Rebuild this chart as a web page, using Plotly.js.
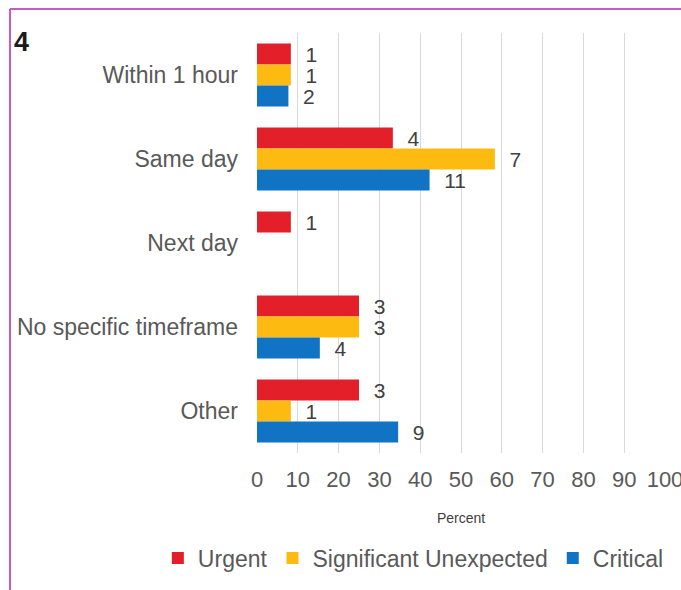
<!DOCTYPE html>
<html>
<head>
<meta charset="utf-8">
<script src="https://cdn.plot.ly/plotly-3.0.1.min.js"></script>
<style>html,body{margin:0;padding:0;background:#fff;}#chart{width:681px;height:590px;}</style>
</head>
<body>
<div id="chart"></div>
<script>
// Categories (top to bottom)
var categories = ["Within 1 hour", "Same day", "Next day", "No specific timeframe", "Other"];
// Bar lengths (percent)
var urgentPct = [8.3, 33.3, 8.3, 25, 25];
var sigPct = [8.3, 58.3, 0, 25, 8.3];
var criticalPct = [7.7, 42.3, 0, 15.4, 34.6];
// Counts shown as data labels
var urgentN = [1, 4, 1, 3, 3];
var sigN = [1, 7, 0, 3, 1];
var criticalN = [2, 11, 0, 4, 9];
// Axis ticks
var xTicks = [0, 10, 20, 30, 40, 50, 60, 70, 80, 90, 100];

var seriesNames = ["Urgent", "Significant Unexpected", "Critical"];
var seriesColors = ["#e3202a", "#fdbb12", "#1173c4"];

function lab(n){ return n.map(function(v){ return v ? "\u00a0\u00a0" + v : ""; }); }

var pcts = [urgentPct, sigPct, criticalPct];
var counts = [urgentN, sigN, criticalN];
var traces = seriesNames.map(function(name, i){
  return {
    type: "bar",
    orientation: "h",
    name: name,
    y: categories,
    x: pcts[i],
    text: lab(counts[i]),
    textposition: "outside",
    constraintext: "none",
    cliponaxis: false,
    textfont: {family: "Liberation Sans, Arial, sans-serif", size: 21, color: "#404040"},
    marker: {color: seriesColors[i], line: {width: 0}},
    hoverinfo: "none"
  };
});

var layout = {
  width: 681, height: 590,
  margin: {l: 257, r: 16, t: 33, b: 136},
  paper_bgcolor: "#ffffff", plot_bgcolor: "#ffffff",
  barmode: "group",
  bargap: 0.25,
  bargroupgap: 0,
  font: {family: "Liberation Sans, Arial, sans-serif", color: "#595959"},
  title: {text: "<b>4</b>", x: 14/681, xanchor: "left", y: 1 - 42/590, yanchor: "middle",
          font: {family: "Liberation Sans, Arial, sans-serif", size: 27, color: "#1a1a1a"}},
  xaxis: {
    range: [0, 100], tickvals: xTicks, ticktext: xTicks.map(String),
    showgrid: true, gridcolor: "#d9d9d9", gridwidth: 1,
    zeroline: false, showline: false, ticks: "",
    tickfont: {size: 22, color: "#595959"},
    ticklabelstandoff: 11,
    ticklabeloverflow: "allow",
    title: {text: "Percent", font: {size: 14, color: "#404040"}, standoff: 22}
  },
  yaxis: {
    type: "category", autorange: "reversed",
    showgrid: false, zeroline: false, showline: false, ticks: "",
    tickfont: {size: 23, color: "#595959"},
    ticklabelstandoff: 18
  },
  showlegend: true,
  legend: {
    orientation: "h", x: -0.243, xanchor: "left", y: -0.247, yanchor: "middle",
    font: {size: 23, color: "#595959"}, traceorder: "normal",
    itemclick: false, itemdoubleclick: false
  },
  shapes: [
    {type: "line", xref: "paper", yref: "paper", x0: (10-257)/408, x1: (10-257)/408, y0: 1 + 24/421, y1: -0.4, line: {color: "#c65bc6", width: 2}},
    {type: "line", xref: "paper", yref: "paper", x0: (10-257)/408, x1: 1.1, y0: 1 + 24/421, y1: 1 + 24/421, line: {color: "#c65bc6", width: 2}}
  ]
};

Plotly.newPlot("chart", traces, layout, {displayModeBar: false, staticPlot: true});
</script>
</body>
</html>
